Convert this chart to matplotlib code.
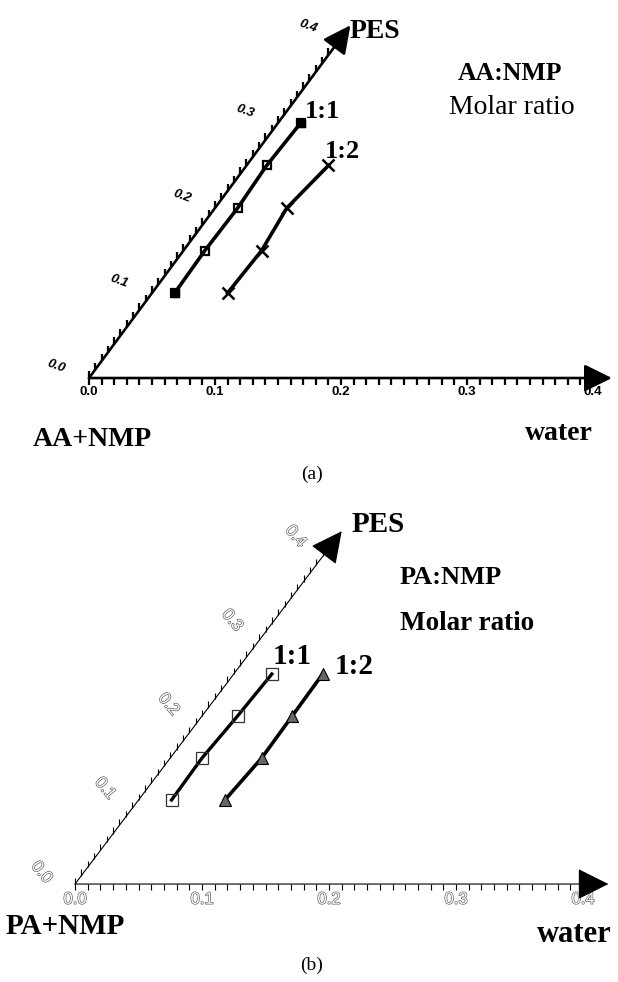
import matplotlib
matplotlib.use("Agg")
import matplotlib.pyplot as plt
import matplotlib.patheffects as pe
from matplotlib.collections import LineCollection
import numpy as np

# cloud point compositions (mass fractions) - PES content and water content
pes_aa_11 = [0.10, 0.15, 0.20, 0.25, 0.30]
water_aa_11 = [0.018, 0.017, 0.018, 0.016, 0.018]
pes_aa_12 = [0.10, 0.15, 0.20, 0.25]
water_aa_12 = [0.060, 0.062, 0.057, 0.065]

pes_pa_11 = [0.10, 0.15, 0.20, 0.25]
water_pa_11 = [0.026, 0.025, 0.028, 0.030]
pes_pa_12 = [0.10, 0.15, 0.20, 0.25]
water_pa_12 = [0.068, 0.072, 0.071, 0.070]

tick_values = [0.0, 0.1, 0.2, 0.3, 0.4]
tick_labels = ["0.0", "0.1", "0.2", "0.3", "0.4"]

SERIF = "Liberation Serif"
SANS = "Liberation Sans"
H = np.sqrt(3) / 2


def tern(w, p):
    # ternary composition -> cartesian position
    w = np.asarray(w, float)
    p = np.asarray(p, float)
    return w + p / 2, p * H


def draw_frame(ax, lw, tick_len, tick_lw, tip, head, bottom_kw, left_kw, bottom_off, left_rot):
    minor = np.arange(0, 0.4001, 0.01)
    zeros = np.zeros_like(minor)
    bx, by = tern(minor, zeros)
    lx, ly = tern(zeros, minor)
    segs = [[(x, y), (x, y - tick_len)] for x, y in zip(bx, by)]
    segs += [[(x, y), (x, y + tick_len)] for x, y in zip(lx, ly)]
    ax.add_collection(LineCollection(segs, colors="k", linewidths=tick_lw))

    for v, lab in zip(tick_values, tick_labels):
        ax.annotate(lab, xy=tern(v, 0), xytext=(0, bottom_off), textcoords="offset points",
                    ha="center", va="center", **bottom_kw)
        ax.annotate(lab, xy=tern(0, v), xytext=(-24, 8.5), textcoords="offset points",
                    ha="center", va="center", rotation=left_rot, **left_kw)

    style = "-|>,head_length=%.2f,head_width=%.2f" % head
    for end in (tern(tip, 0), tern(0, tip)):
        ax.annotate("", xy=end, xytext=(0, 0),
                    arrowprops=dict(arrowstyle=style, lw=lw, color="k",
                                    shrinkA=0, shrinkB=0, mutation_scale=20),
                    zorder=5)


fig = plt.figure(figsize=(6.18, 9.82), dpi=100)


def ftext(x, y, s, **kw):
    fig.text(x / 618, 1 - y / 982, s, **kw)


# (a) AA:NMP
ax_a = fig.add_axes([0, 1 - 491 / 982, 1, 491 / 982])
ax_a.set_xlim(-0.07063, 0.41984)
ax_a.set_ylim(-0.1151, 0.3851)
ax_a.axis("off")
bold_sans = dict(fontsize=9.5, fontweight="bold", family=SANS)
draw_frame(ax_a, lw=1.9, tick_len=0.0068, tick_lw=1.6, tip=0.415, head=(0.85, 0.42),
           bottom_kw=bold_sans, left_kw=dict(bold_sans, fontstyle="italic"),
           bottom_off=-10, left_rot=-20)

x, y = tern(water_aa_11, pes_aa_11)
ax_a.plot(x, y, "-", color="k", lw=2.6)
ax_a.plot(x, y, "s", ms=6, mfc="none", mec="k", mew=1.6)
ax_a.plot(x[[0, -1]], y[[0, -1]], "s", ms=6, color="k")
x, y = tern(water_aa_12, pes_aa_12)
ax_a.plot(x, y, "-", color="k", lw=2.6)
ax_a.plot(x, y, "x", ms=8, mec="k", mew=1.8)

ftext(350, 31, "PES", fontsize=20, fontweight="bold", family=SERIF, va="center")
ftext(510, 74, "AA:NMP", fontsize=18.5, fontweight="bold", family=SERIF, ha="center", va="center")
ftext(512, 108, "Molar ratio", fontsize=20, family=SERIF, ha="center", va="center")
ftext(305, 112, "1:1", fontsize=19, fontweight="bold", family=SERIF, va="center")
ftext(325, 151, "1:2", fontsize=19, fontweight="bold", family=SERIF, va="center")
ftext(92, 440, "AA+NMP", fontsize=20, fontweight="bold", family=SERIF, ha="center", va="center")
ftext(559, 434, "water", fontsize=20, fontweight="bold", family=SERIF, ha="center", va="center")
ftext(312, 474, "(a)", fontsize=14, family=SERIF, ha="center", va="center")

# (b) PA:NMP
ax_b = fig.add_axes([0, 0, 1, 491 / 982])
ax_b.set_xlim(-0.05906, 0.42756)
ax_b.set_ylim(-0.1010, 0.4052)
ax_b.axis("off")
hollow = dict(fontsize=12, family=SANS, color="white",
              path_effects=[pe.withStroke(linewidth=0.9, foreground="#555555")])
draw_frame(ax_b, lw=0.8, tick_len=0.0065, tick_lw=0.8, tip=0.42, head=(1.0, 0.5),
           bottom_kw=hollow, left_kw=hollow, bottom_off=-11, left_rot=-50)

x, y = tern(water_pa_11, pes_pa_11)
ax_b.plot(x, y, "-", color="k", lw=2.4)
ax_b.plot(x, y, "s", ms=8, mfc="none", mec="#333333", mew=0.9)
x, y = tern(water_pa_12, pes_pa_12)
ax_b.plot(x, y, "-", color="k", lw=2.6)
ax_b.plot(x, y, "^", ms=8, mfc="#666666", mec="k", mew=0.8)

ftext(352, 525, "PES", fontsize=21, fontweight="bold", family=SERIF, va="center")
ftext(400, 578, "PA:NMP", fontsize=19, fontweight="bold", family=SERIF, va="center")
ftext(400, 624, "Molar ratio", fontsize=19.5, fontweight="bold", family=SERIF, va="center")
ftext(273, 657, "1:1", fontsize=21, fontweight="bold", family=SERIF, va="center")
ftext(335, 666, "1:2", fontsize=21, fontweight="bold", family=SERIF, va="center")
ftext(65, 927, "PA+NMP", fontsize=21, fontweight="bold", family=SERIF, ha="center", va="center")
ftext(574, 935, "water", fontsize=22, fontweight="bold", family=SERIF, ha="center", va="center")
ftext(312, 965, "(b)", fontsize=14, family=SERIF, ha="center", va="center")

fig.savefig("out.png", dpi=100, facecolor="white")
